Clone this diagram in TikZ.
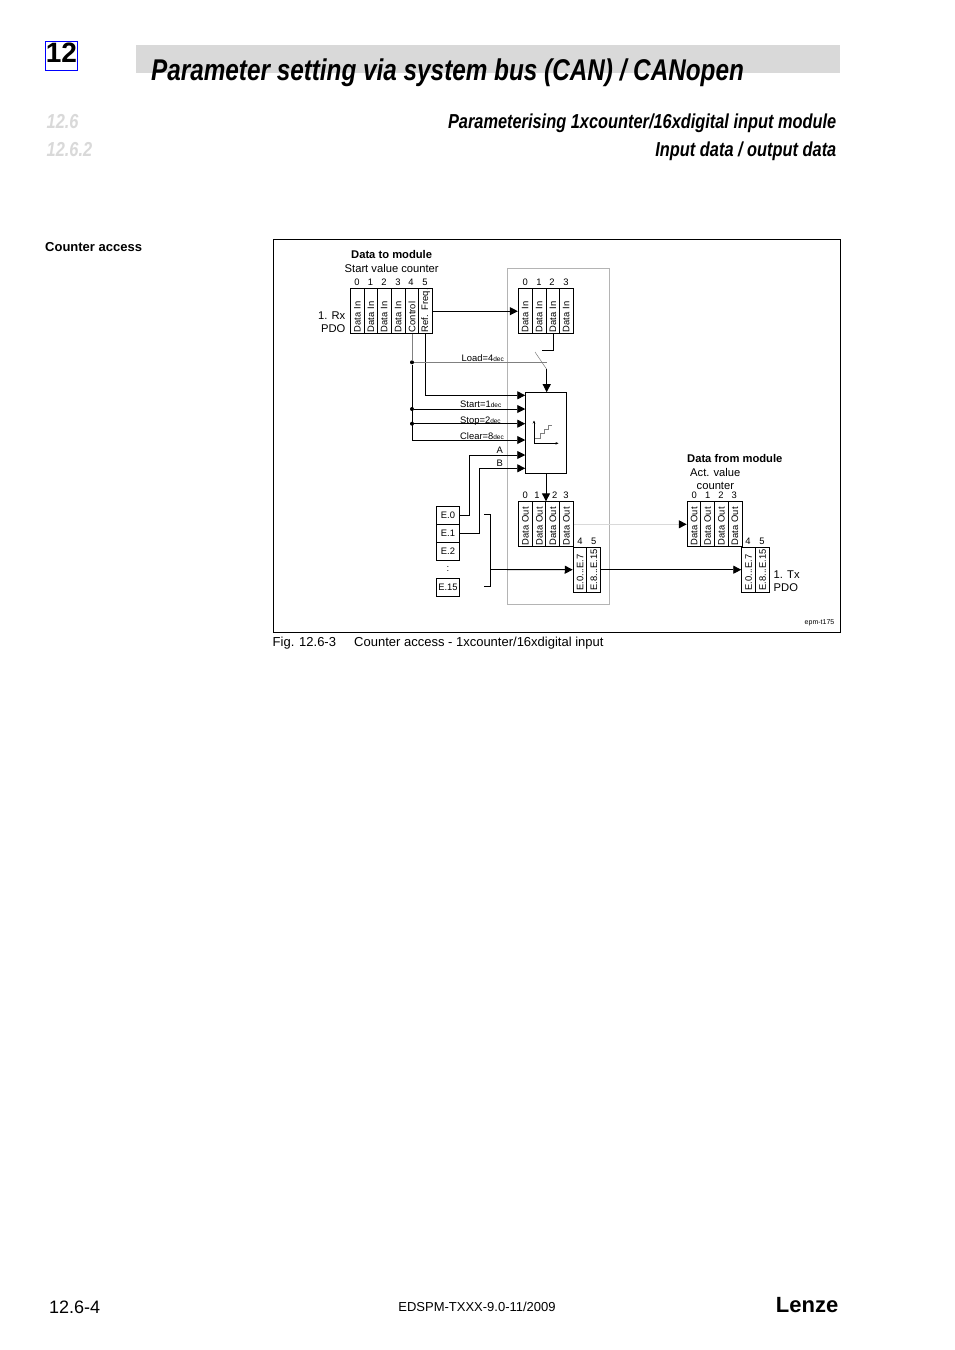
\documentclass[tikz,border=0pt]{standalone}
\usepackage{fontspec}
\setmainfont{Liberation Sans}
\newfontfamily\headfont[FakeStretch=0.81]{Liberation Sans}
\usepackage{xcolor}
\usetikzlibrary{positioning,arrows.meta}
\definecolor{bandgray}{HTML}{D9D9D9}
\definecolor{framegray}{HTML}{B4B4B4}
\newcommand{\decsub}{{\fontsize{6.5}{7}\selectfont dec}}

\begin{document}
\begin{tikzpicture}[
  x=1pt, y=-1pt,
  cell/.style={draw, rotate=90, line width=0.9pt, fill=white, inner xsep=1.5pt, inner ysep=0pt, text width=42pt, minimum height=14pt, align=left, font=\fontsize{9.4}{11}\selectfont},
  slot/.style={draw, line width=0.9pt, fill=white, inner sep=0pt, minimum width=22.6pt, font=\fontsize{9.4}{11}\selectfont},
  num/.style={inner sep=0pt, font=\fontsize{9.4}{11}\selectfont},
  lbl/.style={inner sep=0pt, anchor=base west, font=\fontsize{11.2}{13}\selectfont},
  sig/.style={inner sep=0pt, anchor=base west, font=\fontsize{9.4}{11}\selectfont},
  headbig/.style={inner sep=0pt, font=\headfont\fontsize{30}{32}\selectfont\bfseries\itshape},
  headsub/.style={inner sep=0pt, font=\headfont\fontsize{20.2}{22}\selectfont\bfseries\itshape},
  msg/.style={-{Triangle[length=8pt,width=8pt]}, line width=0.9pt},
  wire/.style={line width=0.9pt},
  dot/.style={circle, fill=black, inner sep=0pt, minimum size=4pt}
]
\useasboundingbox (0,0) rectangle (954,1350);
\fill[white] (0,0) rectangle (954,1350);

% Page head
\node[draw=blue, line width=1pt, minimum width=32pt, minimum height=28.6pt, inner sep=0pt] (chapbox) at (61.5,56) {};
\node[inner sep=0pt, font=\fontsize{28}{30}\selectfont\bfseries] (chapnum) at (61.5,53) {12};
\fill[bandgray] (136,45) rectangle (840,73);
\node[headbig, anchor=base west] (title) at (151,80) {Parameter setting via system bus (CAN) / CANopen};
\node[headsub, anchor=base west, text=bandgray] (secnum) at (46.5,128) {12.6};
\node[headsub, anchor=base west, text=bandgray] (subnum) at (46.5,156) {12.6.2};
\node[headsub, anchor=base east] (sectitle) at (836.5,128) {Parameterising 1xcounter/16xdigital input module};
\node[headsub, anchor=base east] (subtitle) at (836.5,156) {Input data / output data};
\node[inner sep=0pt, anchor=base west, font=\fontsize{13}{15}\selectfont\bfseries] (margin) at (45,251) {Counter access};

% Frames
\draw[framegray, line width=0.9pt] (507.3,268.7) rectangle (609.3,604);
\draw[line width=0.8pt] (273.8,239.3) rectangle (840.5,632.3);

% Rx PDO cells
\node[lbl, font=\fontsize{11.2}{13}\selectfont\bfseries] (datato) at (351,258.5) {Data to module};
\node[lbl] (startval) at (344.5,272) {Start value counter};
\node[num] (n0) at (357,282) {0};
\node[num] (n1) at (370.5,282) {1};
\node[num] (n2) at (384,282) {2};
\node[num] (n3) at (398,282) {3};
\node[num] (n4) at (411,282) {4};
\node[num] (n5) at (425,282) {5};
\node[cell] (rx0) at (357.5,311.2) {Data In};
\node[cell] (rx1) at (371,311.2) {Data In};
\node[cell] (rx2) at (384.3,311.2) {Data In};
\node[cell] (rx3) at (398.3,311.2) {Data In};
\node[cell] (rxctrl) at (412,311.2) {Control};
\node[cell] (rxref) at (425.7,311.2) {\mbox{Ref. Freq.}};
\node[lbl, anchor=base east] (rxa) at (345.5,319) {1. Rx};
\node[lbl, anchor=base east] (rxb) at (345.5,332) {PDO};

% Module input cells
\node[num] (m0) at (525.3,282) {0};
\node[num] (m1) at (539,282) {1};
\node[num] (m2) at (552,282) {2};
\node[num] (m3) at (566,282) {3};
\node[cell] (in0) at (525.3,311.2) {Data In};
\node[cell] (in1) at (539.3,311.2) {Data In};
\node[cell] (in2) at (553,311.2) {Data In};
\node[cell] (in3) at (566.3,311.2) {Data In};

% Counter
\node[draw, line width=0.9pt, minimum width=40.6pt, minimum height=80.3pt, inner sep=0pt] (counter) at (546,432.8) {};
\draw[-{Stealth[length=3pt,width=2.5pt]}, line width=0.8pt] (534,443.3) -- (534,420.5);
\draw[-{Stealth[length=3pt,width=2.5pt]}, line width=0.8pt] (534,443.3) -- (558.5,443.3);
\draw[gray, line width=0.6pt] (535,438.3) -- (540,438.3) -- (540,433.5) -- (544,433.5) -- (544,429.5) -- (548,429.5) -- (548,425.5) -- (552,425.5);

% Module output cells
\node[num] (o0) at (525.3,495.7) {0};
\node[num] (o1) at (537,495.7) {1};
\node[num] (o2) at (554.7,495.7) {2};
\node[num] (o3) at (566,495.7) {3};
\node[num] (o4) at (580,541) {4};
\node[num] (o5) at (593.7,541) {5};
\node[cell] (out0) at (525.3,524.3) {Data Out};
\node[cell] (out1) at (539.3,524.3) {Data Out};
\node[cell] (out2) at (552.8,524.3) {Data Out};
\node[cell] (out3) at (566.3,524.3) {Data Out};
\node[cell] (oute0) at (580.2,569.7) {E.0...E.7};
\node[cell] (oute8) at (593.9,569.7) {E.8...E.15};

% Digital inputs
\node[slot, minimum height=17.3pt] (e0) at (448,515.4) {E.0};
\node[slot, minimum height=18.3pt] (e1) at (448,533.2) {E.1};
\node[slot, minimum height=18pt] (e2) at (448,551.3) {E.2};
\node[num] (edots) at (448,569) {:};
\node[slot, minimum height=17.7pt] (e15) at (448,587.2) {E.15};

% Tx PDO cells
\node[lbl, font=\fontsize{11.2}{13}\selectfont\bfseries] (datafrom) at (687,462) {Data from module};
\node[lbl] (actval) at (690,476) {Act. value};
\node[lbl] (actcnt) at (696.5,489) {counter};
\node[num] (t0) at (694.3,495.5) {0};
\node[num] (t1) at (707.7,495.5) {1};
\node[num] (t2) at (721,495.5) {2};
\node[num] (t3) at (734.3,495.5) {3};
\node[num] (t4) at (748,541) {4};
\node[num] (t5) at (762,541) {5};
\node[cell] (tx0) at (694.2,524.3) {Data Out};
\node[cell] (tx1) at (707.7,524.3) {Data Out};
\node[cell] (tx2) at (721.3,524.3) {Data Out};
\node[cell] (tx3) at (735,524.3) {Data Out};
\node[cell] (txe0) at (748.7,569.7) {E.0...E.7};
\node[cell] (txe8) at (762.7,569.7) {E.8...E.15};
\node[lbl, anchor=base west] (txa) at (773.5,578.5) {1. Tx};
\node[lbl, anchor=base west] (txb) at (773.5,591) {PDO};
\node[inner sep=0pt, font=\fontsize{7}{8}\selectfont] (epm) at (819.5,623) {epm-t175};

% Signal labels
\node[sig] (lload) at (461.5,361.5) {Load=4\decsub};
\node[sig] (lstart) at (460,407) {Start=1\decsub};
\node[sig] (lstop) at (460,423) {Stop=2\decsub};
\node[sig] (lclear) at (460,439) {Clear=8\decsub};
\node[sig] (la) at (496.5,453) {A};
\node[sig] (lb) at (496.5,466.5) {B};

% Junctions
\node[dot] (jload) at (412,362.3) {};
\node[dot] (jstart) at (412,409) {};
\node[dot] (jstop) at (412,423.7) {};
\coordinate (jclear) at (412,440);
\coordinate (jref) at (425.7,395.3);
\coordinate (aturn) at (469.7,455);
\coordinate (bturn) at (479.7,468.3);
\coordinate (swtop) at (535,352);
\coordinate (swbot) at (546.7,369.3);
\coordinate (swhook) at (541.7,350.7);
\coordinate (brtop) at (484,514.7);
\coordinate (brbot) at (484,586.7);
\coordinate (brmid) at (490.7,569.5);

% Connectors
\draw[msg] (rxref.south) -- (in0.north);
\draw[wire, gray] (rxctrl.west) -- (jload);
\draw[wire] (jload) -- (jclear);
\draw[msg] (rxref.west) -- (jref) -- (jref -| counter.west);
\draw[msg] (jstart) -- (jstart -| counter.west);
\draw[msg] (jstop) -- (jstop -| counter.west);
\draw[msg] (jclear) -- (jclear -| counter.west);
\draw[msg] (e0.east) -| (aturn) -- (aturn -| counter.west);
\draw[msg] (e1.east) -| (bturn) -- (bturn -| counter.west);
\draw[wire] (in2.west) |- (swhook);
\draw[wire, gray, line width=0.5pt] (swtop) -- (swbot);
\draw[wire, gray, line width=0.6pt] (jload) -- (swbot |- jload);
\draw[msg] (swbot) -- (swbot |- counter.north);
\draw[msg] (counter.south) -- (counter.south |- out0.east);
\draw[wire] (brtop) -| (brmid) |- (brbot);
\draw[msg] (brmid) -- (oute0.north);
\draw[msg] (oute8.south) -- (txe0.north);
\draw[bandgray, -{Triangle[length=8pt,width=8pt,color=black]}, line width=0.9pt] (out3.south) -- (tx0.north);

% Page foot
\node[inner sep=0pt, anchor=base west, font=\fontsize{13}{15}\selectfont] (figno) at (272.5,646) {Fig. 12.6-3};
\node[inner sep=0pt, anchor=base west, font=\fontsize{13}{15}\selectfont] (figtext) at (354,646) {Counter access - 1xcounter/16xdigital input};
\node[inner sep=0pt, anchor=base west, font=\fontsize{18}{20}\selectfont] (pageno) at (49,1313) {12.6-4};
\node[inner sep=0pt, anchor=base, font=\fontsize{13}{15}\selectfont] (docno) at (477,1311) {EDSPM-TXXX-9.0-11/2009};
\node[inner sep=0pt, anchor=base east, font=\fontsize{22}{24}\selectfont\bfseries] (logo) at (838.5,1312) {Lenze};
\end{tikzpicture}
\end{document}
